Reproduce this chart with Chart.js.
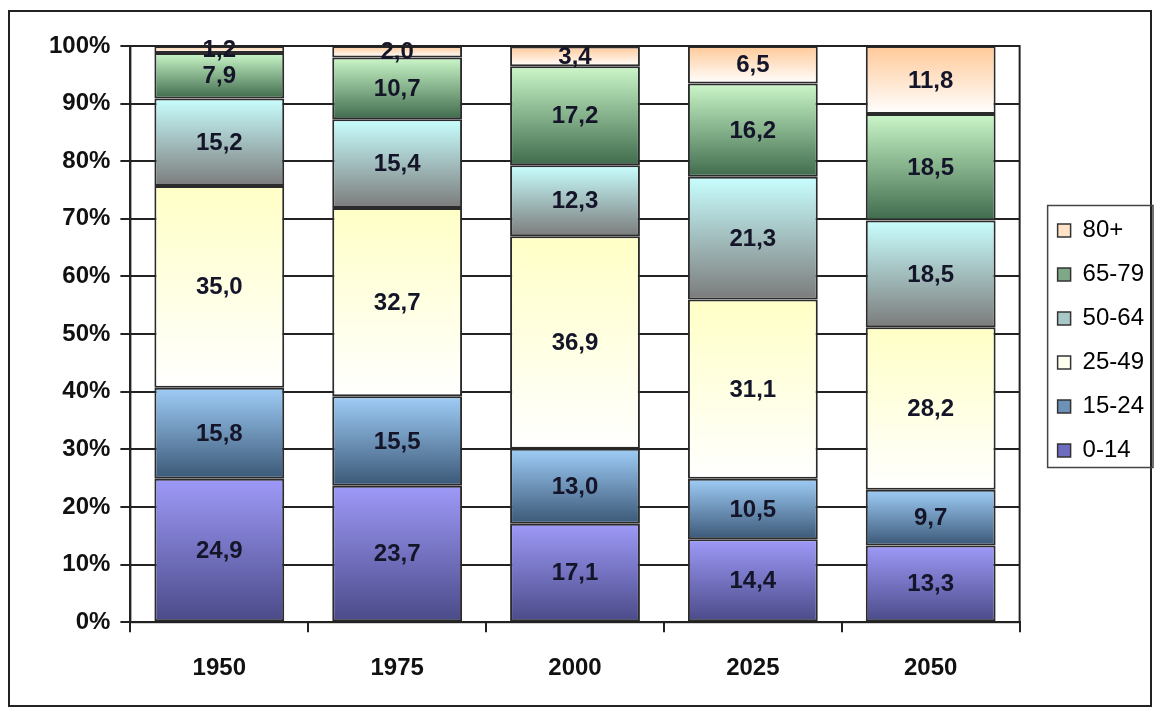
<!DOCTYPE html>
<html>
<head>
<meta charset="utf-8">
<script src="https://cdn.jsdelivr.net/npm/chart.js@4/dist/chart.umd.min.js"></script>
<style>
  html, body { margin: 0; padding: 0; background: #fff; }
  #frame { position: absolute; left: 8px; top: 10px; width: 1140px; height: 693px; border: 2px solid #222; }
  #wrap { position: absolute; left: 0; top: 0; width: 1157px; height: 715px; }
</style>
</head>
<body>
<div id="frame"></div>
<div id="wrap"><canvas id="chart"></canvas></div>
<script>
'use strict';

// years on the x axis
var categories = ['1950', '1975', '2000', '2025', '2050'];

// share of population by age group (%)
var age0to14 = [24.9, 23.7, 17.1, 14.4, 13.3];
var age15to24 = [15.8, 15.5, 13.0, 10.5, 9.7];
var age25to49 = [35.0, 32.7, 36.9, 31.1, 28.2];
var age50to64 = [15.2, 15.4, 12.3, 21.3, 18.5];
var age65to79 = [7.9, 10.7, 17.2, 16.2, 18.5];
var age80plus = [1.2, 2.0, 3.4, 6.5, 11.8];

var seriesNames = ['0-14', '15-24', '25-49', '50-64', '65-79', '80+'];
var seriesValues = [age0to14, age15to24, age25to49, age50to64, age65to79, age80plus];

// top / bottom colours of each segment's gradient
var gradTop = ['#9e9af8', '#9fcdf7', '#ffffc6', '#c9ffff', '#cbf7c9', '#ffc998'];
var gradBottom = ['#4a4a88', '#3b5877', '#ffffff', '#7b7b7b', '#3f6b4d', '#ffffff'];
var legendFill = ['#6e6cc0', '#6c92b8', '#fffff0', '#a8c8c8', '#7fa888', '#ffe2c8'];

var fontFamily = '"Liberation Sans", Arial, sans-serif';
var labelFont = { family: fontFamily, size: 24, weight: 'bold' };

function segmentGradient(context) {
  var chart = context.chart;
  if (!chart.chartArea || !chart.scales.y) return gradTop[context.datasetIndex];
  var ds = context.datasetIndex, i = context.dataIndex;
  var base = 0;
  for (var k = 0; k < ds; k++) base += seriesValues[k][i];
  var top = base + seriesValues[ds][i];
  var y = chart.scales.y;
  var g = chart.ctx.createLinearGradient(0, y.getPixelForValue(top), 0, y.getPixelForValue(base));
  g.addColorStop(0, gradTop[ds]);
  g.addColorStop(1, gradBottom[ds]);
  return g;
}

var datasets = seriesNames.map(function (name, idx) {
  return {
    label: name,
    data: seriesValues[idx],
    backgroundColor: segmentGradient,
    borderColor: '#2b2b2b',
    borderWidth: 2,
    borderSkipped: false,
    categoryPercentage: 1,
    barPercentage: 0.73
  };
});

// values written in the middle of each segment
var valueLabels = {
  id: 'valueLabels',
  afterDatasetsDraw: function (chart) {
    var ctx = chart.ctx;
    ctx.save();
    ctx.font = 'bold 24px ' + fontFamily;
    ctx.fillStyle = '#15152a';
    ctx.textAlign = 'center';
    ctx.textBaseline = 'middle';
    chart.data.datasets.forEach(function (ds, di) {
      chart.getDatasetMeta(di).data.forEach(function (bar, j) {
        var txt = ds.data[j].toFixed(1).replace('.', ',');
        ctx.fillText(txt, bar.x, (bar.y + bar.base) / 2 + 1);
      });
    });
    ctx.restore();
  }
};

// nudge the legend block right and up
var legendShift = {
  id: 'legendShift',
  afterLayout: function (chart) {
    var lg = chart.legend;
    lg.left += 18; lg.right += 18;
    lg.top -= 35; lg.bottom -= 35;
  }
};

// plot-area outline and legend frame
var frames = {
  id: 'frames',
  afterDraw: function (chart) {
    var ctx = chart.ctx, a = chart.chartArea;
    ctx.save();
    ctx.strokeStyle = '#222';
    ctx.lineWidth = 2;
    ctx.strokeRect(a.left, a.top, a.right - a.left, a.bottom - a.top);
    var boxes = chart.legend.legendHitBoxes;
    if (boxes && boxes.length) {
      var minX = Infinity, maxX = -Infinity, minY = Infinity, maxY = -Infinity;
      boxes.forEach(function (b) {
        minX = Math.min(minX, b.left); maxX = Math.max(maxX, b.left + b.width);
        minY = Math.min(minY, b.top); maxY = Math.max(maxY, b.top + b.height);
      });
      ctx.lineWidth = 1.5;
      ctx.strokeStyle = '#444';
      ctx.strokeRect(minX - 10, minY - 13, maxX - minX + 19, maxY - minY + 18);
    }
    ctx.restore();
  }
};

var ctx = document.getElementById('chart').getContext('2d');
var chart = new Chart(ctx, {
  type: 'bar',
  data: { labels: categories, datasets: datasets },
  plugins: [legendShift, valueLabels, frames],
  options: {
    responsive: false,
    animation: false,
    maintainAspectRatio: false,
    layout: { padding: { left: 39, top: 46, right: 21, bottom: 10 } },
    plugins: {
      tooltip: { enabled: false },
      legend: {
        position: 'right',
        reverse: true,
        labels: {
          boxWidth: 13,
          boxHeight: 13,
          padding: 20,
          color: '#222',
          font: { family: fontFamily, size: 24 },
          generateLabels: function (chart) {
            return seriesNames.map(function (name, i) {
              return {
                text: name,
                fillStyle: legendFill[i],
                strokeStyle: '#333',
                lineWidth: 1.5,
                datasetIndex: i,
                hidden: false
              };
            });
          }
        }
      }
    },
    scales: {
      x: {
        stacked: true,
        grid: { display: true, offset: true, drawOnChartArea: false, color: '#222', lineWidth: 2, tickLength: 10 },
        border: { color: '#222', width: 2 },
        ticks: { color: '#111', font: labelFont, padding: 22 }
      },
      y: {
        stacked: true,
        min: 0,
        max: 100,
        grid: { color: '#222', lineWidth: 2, tickLength: 10 },
        border: { color: '#222', width: 2 },
        ticks: {
          stepSize: 10,
          color: '#111',
          font: labelFont,
          padding: 10,
          callback: function (v) { return v + '%'; }
        }
      }
    }
  }
});
chart.resize(1157, 715);
</script>
</body>
</html>
